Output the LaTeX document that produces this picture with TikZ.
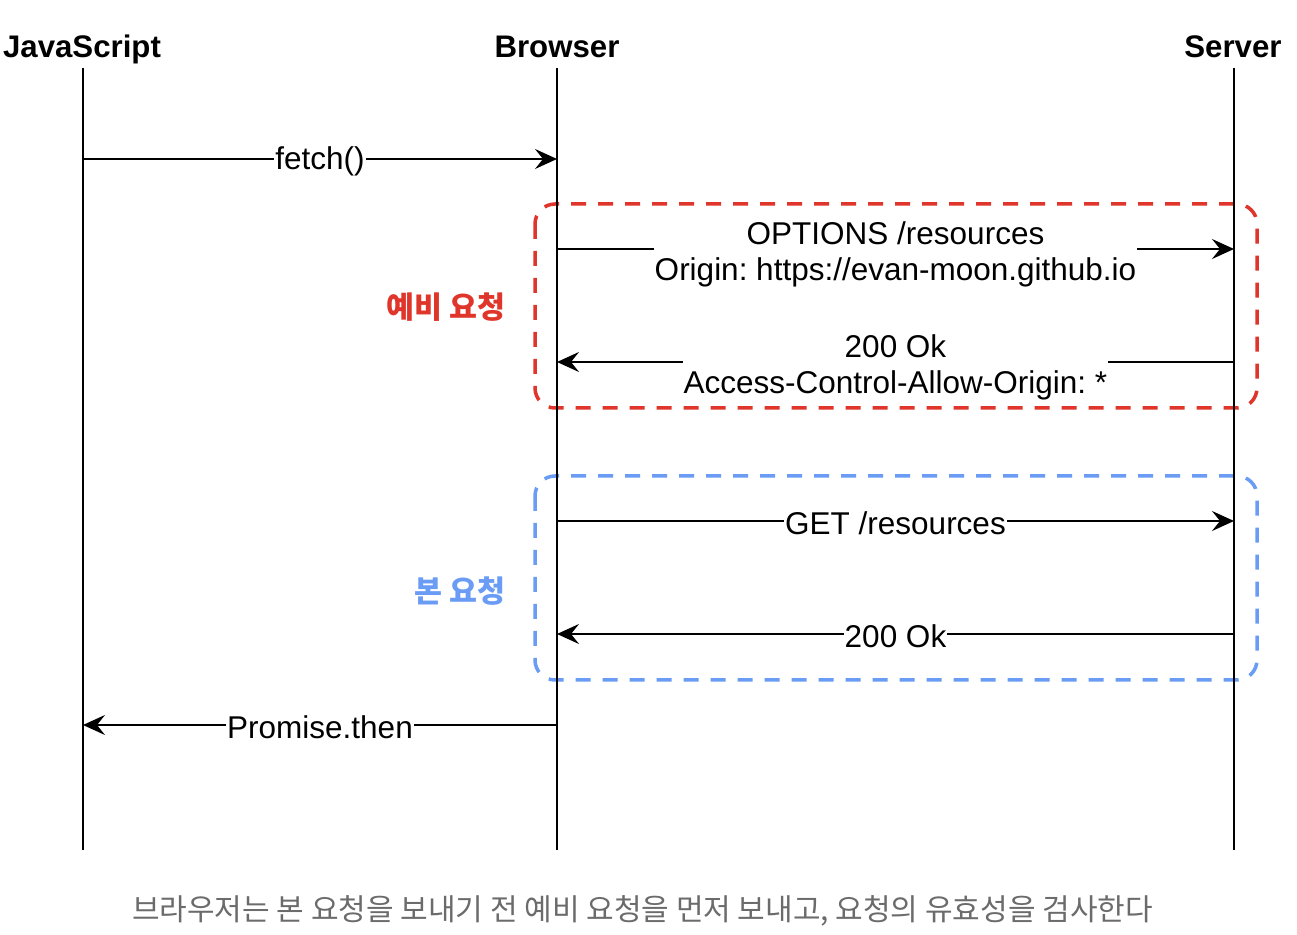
\documentclass[tikz,border=0pt]{standalone}
\usepackage{fontspec}
\setmainfont{Liberation Sans}
\newfontfamily\kr{Noto Sans CJK KR}
\usetikzlibrary{arrows.meta}
\definecolor{boxred}{HTML}{E0352B}
\definecolor{boxblue}{HTML}{6A9CF5}
\definecolor{capgray}{HTML}{6B6B6B}
\frenchspacing
\begin{document}
\begin{tikzpicture}[x=0.5pt,y=-0.5pt,
  hdr/.style={font=\fontsize{15.6}{18}\selectfont\bfseries, inner sep=0, anchor=base},
  life/.style={line width=1pt},
  msg/.style={line width=1pt, -{Stealth[length=11pt,width=10pt,inset=4pt]}},
  lbl/.style={fill=white, inner sep=0.5pt, font=\fontsize{15.75}{18}\selectfont, align=center},
  grp/.style={line width=1.75pt, dash pattern=on 7.5pt off 6pt, rounded corners=10pt},
  grplbl/.style={font=\kr\bfseries\fontsize{15.2}{17}\selectfont, inner sep=0, anchor=east},
  caption/.style={font=\kr\fontsize{15}{17}\selectfont, text=capgray, inner sep=0}
]
\useasboundingbox[fill=white] (0,0) rectangle (1297,935);

% groups
\draw[grp, boxred] (535,204) rectangle (1257,408);
\draw[grp, boxblue] (535,476) rectangle (1257,680);
\node[grplbl, text=boxred] (pre) at (506,307) {예비 요청};
\node[grplbl, text=boxblue] (main) at (506,591) {본 요청};

% headers
\node[hdr] (js) at (82,58) {JavaScript};
\node[hdr] (br) at (557,58) {Browser};
\node[hdr] (sv) at (1233,58) {Server};

% lifelines
\coordinate (jsTop) at (83,68);   \coordinate (jsBot) at (83,850);
\coordinate (brTop) at (557,68);  \coordinate (brBot) at (557,850);
\coordinate (svTop) at (1234,68); \coordinate (svBot) at (1234,850);
\draw[life] (jsTop) -- (jsBot);
\draw[life] (brTop) -- (brBot);
\draw[life] (svTop) -- (svBot);

% message anchor points
\coordinate (js1) at (83,159);   \coordinate (br1) at (557,159);
\coordinate (br2) at (557,249);  \coordinate (sv2) at (1234,249);
\coordinate (sv3) at (1234,362); \coordinate (br3) at (557,362);
\coordinate (br4) at (557,521);  \coordinate (sv4) at (1234,521);
\coordinate (sv5) at (1234,634); \coordinate (br5) at (557,634);
\coordinate (br6) at (557,725);  \coordinate (js6) at (83,725);

% messages
\draw[msg] (js1) -- node[lbl, yshift=-1pt] (m1) {fetch()} (br1);
\draw[msg] (br2) -- node[lbl, yshift=-2.5pt] (m2) {OPTIONS /resources\\Origin: https://evan-moon.github.io} (sv2);
\draw[msg] (sv3) -- node[lbl, yshift=-2.5pt] (m3) {200 Ok\\Access-Control-Allow-Origin: *} (br3);
\draw[msg] (br4) -- node[lbl, yshift=-1pt] (m4) {GET /resources} (sv4);
\draw[msg] (sv5) -- node[lbl, yshift=-1pt] (m5) {200 Ok} (br5);
\draw[msg] (br6) -- node[lbl, yshift=-1pt] (m6) {Promise.then} (js6);

% caption
\node[caption] (cap) at (642.5,911) {브라우저는 본 요청을 보내기 전 예비 요청을 먼저 보내고, 요청의 유효성을 검사한다};
\end{tikzpicture}
\end{document}
